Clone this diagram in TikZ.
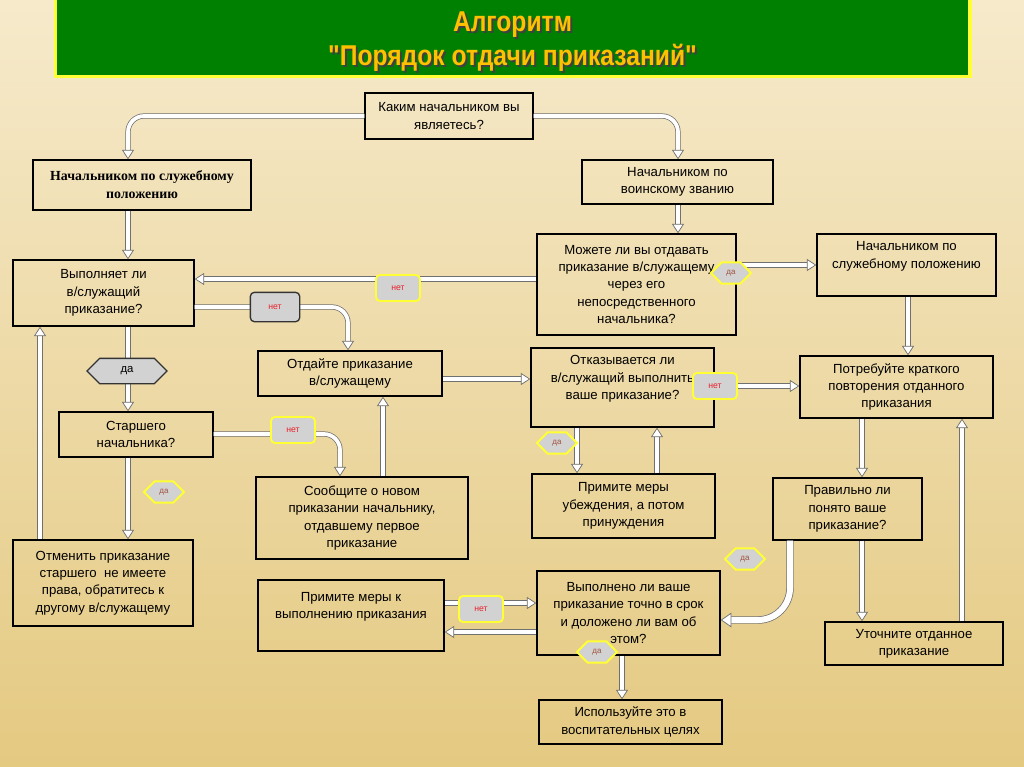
\documentclass[tikz,border=0pt]{standalone}
\usepackage{fontspec}
\setmainfont{Liberation Sans}
\newfontfamily\serifbf{Liberation Serif}
\newfontfamily\titlefont[FakeStretch=0.86]{Liberation Sans}
\usetikzlibrary{arrows.meta,shapes.symbols}

\definecolor{bgtop}{HTML}{F6EACB}
\definecolor{bgmid}{HTML}{F0DDA8}
\definecolor{bgbot}{HTML}{E4C981}
\definecolor{titlegreen}{HTML}{008000}
\definecolor{titletext}{HTML}{FFC000}
\definecolor{pipeline}{HTML}{707070}
\definecolor{lblgray}{HTML}{D2D2D2}
\definecolor{lblyellow}{HTML}{FFFF33}
\definecolor{netred}{HTML}{E8202A}
\definecolor{dabrown}{HTML}{A0523C}

\tikzset{
  box/.style={draw, line width=1.1pt, align=center, inner sep=1pt,
    font=\fontsize{9.9}{13}\selectfont},
  nolift/.style={},
  lift/.style={text depth=15pt},
  pipe/.style={draw=pipeline, line width=0.55pt, double=white, double distance=2.8pt,
    rounded corners=12pt, -{Triangle[length=7pt,width=9pt,fill=white]}},
  fat/.style={double distance=4.5pt, rounded corners=24pt,
    -{Triangle[length=8pt,width=11pt,fill=white]}},
  darkhex/.style={signal, signal to=east and west, draw=black!80, line width=1pt,
    fill=lblgray, minimum width=60pt, minimum height=19pt, inner sep=0pt,
    font=\fontsize{8.5}{10}\selectfont},
  darkrect/.style={draw=black!80, line width=1pt, fill=lblgray, rounded corners=3pt,
    minimum width=37pt, minimum height=22pt, inner sep=0pt, text=netred,
    font=\fontsize{6.5}{8}\selectfont},
  yelhex/.style={signal, signal to=east and west, draw=lblyellow, line width=1.4pt,
    fill=lblgray, minimum width=30pt, minimum height=16pt, inner sep=0pt, text=dabrown,
    font=\fontsize{6}{7}\selectfont},
  yelrect/.style={draw=lblyellow, line width=1.4pt, fill=lblgray, rounded corners=3pt,
    minimum width=33pt, minimum height=19.5pt, inner sep=0pt, text=netred,
    font=\fontsize{6.5}{8}\selectfont}
}

\begin{document}
\begin{tikzpicture}[x=0.75pt,y=-0.75pt,>=stealth]
\useasboundingbox (0,0) rectangle (1024,767);
% background
\shade[top color=bgtop, middle color=bgmid, bottom color=bgbot] (0,0) rectangle (1024,767);

% title
\node[draw=lblyellow, line width=2.5pt, fill=titlegreen, minimum width=686pt, minimum height=59pt,
  inner sep=0pt] (ttl) at (512.5,37) {};
\foreach \y/\t in {25/{Алгоритм},58/{"Порядок отдачи приказаний"}}{
  \node[text=black!75, font=\titlefont\bfseries\fontsize{21.5}{24}\selectfont] at (514.5,\y+1.8) {\t};
  \node[text=titletext, font=\titlefont\bfseries\fontsize{21.5}{24}\selectfont] at (512.5,\y) {\t};
}

% boxes: name / left / top / right / bottom / style / text
\foreach \n/\a/\b/\c/\d/\o/\t in {
  q1/365/93/533/139/nolift/{Каким начальником вы\\являетесь?},
  m1/582/160/773/204/nolift/{Начальником по\\воинскому званию},
  q2/13/260/194/326/nolift/{Выполняет ли\\в/служащий\\приказание?},
  q3/537/234/736/335/nolift/{Можете ли вы отдавать\\приказание в/служащему\\через его\\непосредственного\\начальника?},
  s2/817/234/996/296/lift/{Начальником по\\служебному положению},
  g1/258/351/442/396/nolift/{Отдайте приказание\\в/служащему},
  q4/531/348/714/427/lift/{Отказывается ли\\в/служащий выполнить\\ваше приказание?},
  t1/800/356/993/418/nolift/{Потребуйте краткого\\повторения отданного\\приказания},
  q5/59/412/213/457/nolift/{Старшего\\начальника?},
  n1/256/477/468/559/nolift/{Сообщите о новом\\приказании начальнику,\\отдавшему первое\\приказание},
  u1/532/474/715/538/nolift/{Примите меры\\убеждения, а потом\\принуждения},
  q6/773/478/922/540/nolift/{Правильно ли\\понято ваше\\приказание?},
  c1/13/540/193/626/nolift/{Отменить приказание\\старшего~ не имеете\\права, обратитесь к\\другому в/служащему},
  e1/258/580/444/651/lift/{Примите меры к\\выполнению приказания},
  q7/537/571/720/655/nolift/{Выполнено ли ваше\\приказание точно в срок\\и доложено ли вам об\\этом?},
  r1/825/622/1003/665/nolift/{Уточните отданное\\приказание},
  v1/539/700/722/744/nolift/{Используйте это в\\воспитательных целях}}{
  \node[box,\o, minimum width={(\c-\a)*0.75pt}, minimum height={(\d-\b)*0.75pt}]
    (\n) at ({(\a+\c)/2},{(\b+\d)/2}) {\t};
}
\node[box, minimum width=163.5pt, minimum height=37.5pt,
  font=\serifbf\bfseries\fontsize{10.4}{13.5}\selectfont] (s1) at (142,185)
  {Начальником по служебному\\положению};

% connectors
\draw[pipe] (q1.west) -| (s1.north -| 128,0);
\draw[pipe] (q1.east) -| (m1.north -| 678,0);
\draw[pipe] (s1.south -| 128,0) -- (q2.north -| 128,0);
\draw[pipe] (m1.south -| 678,0) -- (q3.north -| 678,0);
\draw[pipe] (q3.west |- 0,279) -- (q2.east |- 0,279);
\draw[pipe] (q3.east |- 0,265) -- (s2.west |- 0,265);
\draw[pipe] (q2.east |- 0,307) -| (g1.north -| 348,0);
\draw[pipe] (q2.south -| 128,0) -- (q5.north -| 128,0);
\draw[pipe] (c1.north -| 40,0) -- (q2.south -| 40,0);
\draw[pipe] (q5.east |- 0,434) -| (n1.north -| 340,0);
\draw[pipe] (q5.south -| 128,0) -- (c1.north -| 128,0);
\draw[pipe] (n1.north -| 383,0) -- (g1.south -| 383,0);
\draw[pipe] (g1.east |- 0,379) -- (q4.west |- 0,379);
\draw[pipe] (s2.south -| 908,0) -- (t1.north -| 908,0);
\draw[pipe] (q4.east |- 0,386) -- (t1.west |- 0,386);
\draw[pipe] (q4.south -| 577,0) -- (u1.north -| 577,0);
\draw[pipe] (u1.north -| 657,0) -- (q4.south -| 657,0);
\draw[pipe] (t1.south -| 862,0) -- (q6.north -| 862,0);
\draw[pipe] (q6.south -| 862,0) -- (r1.north -| 862,0);
\draw[pipe] (r1.north -| 962,0) -- (t1.south -| 962,0);
\draw[pipe,fat] (q6.south -| 790,0) |- (q7.east |- 0,620);
\draw[pipe] (e1.east |- 0,603) -- (q7.west |- 0,603);
\draw[pipe] (q7.west |- 0,632) -- (e1.east |- 0,632);
\draw[pipe] (q7.south -| 622,0) -- (v1.north -| 622,0);

% answer labels
\foreach \n/\x/\y/\s/\t in {l1/127/371/darkhex/да, l2/275/307/darkrect/нет,
  l3/398/288/yelrect/нет, l4/731/273/yelhex/да, l5/293/430/yelrect/нет,
  l6/164/492/yelhex/да, l7/715/386/yelrect/нет, l8/557/443/yelhex/да,
  l9/745/559/yelhex/да, l10/481/609/yelrect/нет, l11/597/652/yelhex/да}{
  \node[\s] (\n) at (\x,\y) {\t};
}
\end{tikzpicture}
\end{document}
